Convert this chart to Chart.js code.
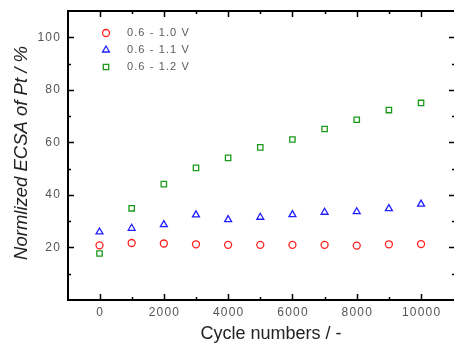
<!DOCTYPE html>
<html>
<head>
<meta charset="utf-8">
<script src="https://cdn.jsdelivr.net/npm/chart.js@4.4.1/dist/chart.umd.min.js"></script>
<style>
  html, body { margin: 0; padding: 0; background: #fff; }
  #wrap { width: 454px; height: 347px; position: relative; }
</style>
</head>
<body>
<div id="wrap"><canvas id="c"></canvas></div>
<script>
// data
const cycles = [0, 1000, 2000, 3000, 4000, 5000, 6000, 7000, 8000, 9000, 10000];
const ecsa10 = [20.8, 21.7, 21.5, 21.2, 21.0, 21.0, 21.0, 21.0, 20.7, 21.2, 21.3];
const ecsa11 = [25.9, 27.3, 28.7, 32.4, 30.6, 31.5, 32.5, 33.4, 33.6, 34.8, 36.5];
const ecsa12 = [17.7, 34.9, 44.1, 50.3, 54.1, 58.1, 61.1, 65.1, 68.6, 72.3, 75.0];
const seriesNames = ["0.6 - 1.0 V", "0.6 - 1.1 V", "0.6 - 1.2 V"];
const xTicks = [0, 2000, 4000, 6000, 8000, 10000];
const yTicks = [20, 40, 60, 80, 100];

const FONT = "Arial, 'Liberation Sans', sans-serif";
const el = (id) => document.getElementById(id);

const pts = (ys) => cycles.map((x, i) => ({ x: x, y: ys[i] }));

const ds = (label, ys, color, style, r) => ({
  label: label,
  data: pts(ys),
  pointStyle: style,
  pointRadius: r,
  pointHoverRadius: r,
  pointBorderWidth: 1.3,
  borderColor: color,
  backgroundColor: "rgba(0,0,0,0)",
  showLine: false
});

// frame, inward ticks, labels and legend
const framePlugin = {
  id: "framePlugin",
  afterDraw(chart) {
    const { ctx, chartArea: a, scales } = chart;
    const xs = scales.x, ys = scales.y;
    const W = chart.width;
    ctx.save();
    ctx.strokeStyle = "#000";
    ctx.lineWidth = 2;
    ctx.beginPath();
    ctx.moveTo(W, a.top); ctx.lineTo(a.left, a.top);
    ctx.lineTo(a.left, a.bottom); ctx.lineTo(W, a.bottom);
    ctx.stroke();

    // ticks (right axis sits just past the canvas edge)
    ctx.lineWidth = 1.5;
    ctx.beginPath();
    for (let v = 0; v <= 10000; v += 1000) {
      const px = Math.round(xs.getPixelForValue(v)) + 0.5;
      const len = v % 2000 === 0 ? 6 : 3;
      ctx.moveTo(px, a.bottom); ctx.lineTo(px, a.bottom - len);
      ctx.moveTo(px, a.top); ctx.lineTo(px, a.top + len);
    }
    for (let v = 10; v <= 100; v += 10) {
      const py = Math.round(ys.getPixelForValue(v)) + 0.5;
      const len = v % 20 === 0 ? 6 : 3;
      ctx.moveTo(a.left, py); ctx.lineTo(a.left + len, py);
      ctx.moveTo(W + 1, py); ctx.lineTo(W + 1 - len, py);
    }
    ctx.stroke();

    // tick labels
    ctx.fillStyle = "#555";
    ctx.font = "12px " + FONT;
    ctx.letterSpacing = "1.2px";
    ctx.textBaseline = "middle";
    ctx.textAlign = "right";
    yTicks.forEach(v => ctx.fillText(String(v), a.left - 7, ys.getPixelForValue(v)));
    ctx.textAlign = "center";
    xTicks.forEach(v => ctx.fillText(String(v), xs.getPixelForValue(v) + 0.6, a.bottom + 13));

    // axis titles
    ctx.letterSpacing = "0px";
    ctx.fillStyle = "#222";
    ctx.font = "18px " + FONT;
    ctx.fillText("Cycle numbers / -", 271, 334);
    ctx.save();
    ctx.translate(22, 153);
    ctx.rotate(-Math.PI / 2);
    ctx.font = "italic 18.5px " + FONT;
    ctx.fillText("Normlized ECSA of Pt / %", 0, 0);
    ctx.restore();

    // legend
    ctx.font = "11px " + FONT;
    ctx.letterSpacing = "1.1px";
    ctx.textAlign = "left";
    chart.data.datasets.forEach((d, i) => {
      const y = 33 + i * 17;
      ctx.strokeStyle = d.borderColor;
      ctx.fillStyle = "rgba(0,0,0,0)";
      ctx.lineWidth = 1.3;
      Chart.helpers.drawPoint(ctx, { pointStyle: d.pointStyle, radius: d.pointRadius, borderWidth: 1.3 }, 106, y);
      ctx.fillStyle = "#5a5a5a";
      ctx.fillText(d.label, 127, y);
    });
    ctx.restore();
  }
};

new Chart(el("c"), {
  type: "scatter",
  data: {
    datasets: [
      ds(seriesNames[0], ecsa10, "#ff2020", "circle", 3.5),
      ds(seriesNames[1], ecsa11, "#2020ff", "triangle", 4),
      ds(seriesNames[2], ecsa12, "#1a9a1a", "rect", 3.8)
    ]
  },
  options: {
    responsive: true,
    maintainAspectRatio: false,
    animation: false,
    layout: { padding: { top: 11, right: 0, bottom: 0, left: 0 } },
    plugins: { legend: { display: false }, tooltip: { enabled: false } },
    scales: {
      x: {
        type: "linear",
        min: -980,
        max: 10860,
        grid: { display: false },
        border: { display: false },
        ticks: { display: false },
        afterFit(s) { s.height = 47; }
      },
      y: {
        type: "linear",
        min: 0,
        max: 110,
        grid: { display: false },
        border: { display: false },
        ticks: { display: false },
        afterFit(s) { s.width = 68; }
      }
    }
  },
  plugins: [framePlugin]
});
</script>
</body>
</html>
